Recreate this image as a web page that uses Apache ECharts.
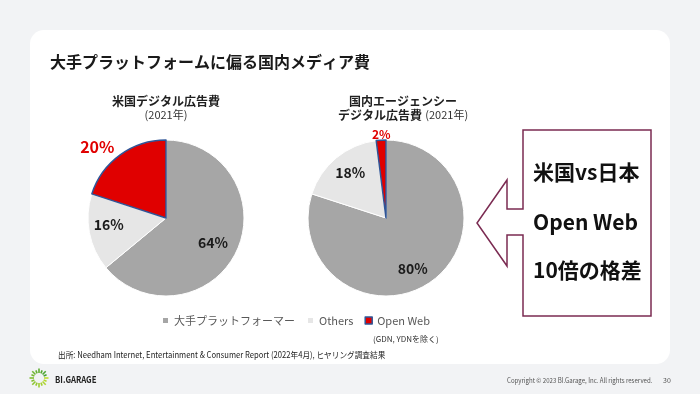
<!DOCTYPE html>
<html>
<head>
<meta charset="utf-8">
<script src="https://cdn.jsdelivr.net/npm/echarts@6/dist/echarts.min.js"></script>
<style>
html,body{margin:0;padding:0;background:#f2f3f5;}
#c{width:700px;height:394px;}
</style>
</head>
<body>
<div id="c"></div>
<script>
// ---- data ----
const categories = ['大手プラットフォーマー', 'Others', 'Open Web'];
const usValues = [64, 16, 20];
const jpValues = [80, 18, 2];
const pageTitle = '大手プラットフォームに偏る国内メディア費';
const usTitle = ['米国デジタル広告費', '(2021年)'];
const jpTitle = ['国内エージェンシー', 'デジタル広告費', '(2021年)'];
const boxLines = ['米国vs日本', 'Open Web', '10倍の格差'];
const noteText = '(GDN, YDNを除く)';
const sourceText = '出所: Needham Internet, Entertainment & Consumer Report (2022年4月), ヒヤリング調査結果';
const brandText = 'BI.GARAGE';
const copyrightText = 'Copyright © 2023 BI.Garage, Inc. All rights reserved.';
const pageNo = '30';

// ---- style ----
const FF = '"Noto Sans CJK JP", "Noto Sans", sans-serif';
const pieCenters = [[166, 218], [386, 218]];
const pieRadius = 78;
const sliceColors = ['#a6a6a6', '#e6e6e6', '#e00000'];
const sliceBorders = [['#ffffff', 1], ['#ffffff', 1], ['#2f5597', 1.5]];
// label shift from the default inside position, per series / slice
const labelShift = [[[9, 7], [-16, -1], [-44, -37]], [[2, 17], [-9, -13], [-2, -42]]];
const labelStyles = [
  { color: '#1a1a1a', fontSize: 14, fontWeight: 'bold' },
  { color: '#1a1a1a', fontSize: 14, fontWeight: 'bold' },
  { color: '#e00000', fontSize: 16, fontWeight: 'bold' }
];
const labelStylesJp = [
  labelStyles[0], labelStyles[1],
  { color: '#e00000', fontSize: 12, fontWeight: 'bold' }
];

function makeData(values, lStyles) {
  return categories.map((n, i) => ({
    name: n, value: values[i],
    itemStyle: { color: sliceColors[i], borderColor: sliceBorders[i][0], borderWidth: sliceBorders[i][1] },
    label: Object.assign({ fontFamily: FF }, lStyles[i])
  }));
}

function pieSeries(values, idx, lStyles) {
  return {
    type: 'pie', center: pieCenters[idx], radius: pieRadius,
    startAngle: 90, clockwise: true, z: 3,
    data: makeData(values, lStyles),
    label: { show: true, position: 'inside', formatter: '{c}%' },
    labelLine: { show: false },
    emphasis: { disabled: true },
    labelLayout: function (p) {
      const s = labelShift[p.seriesIndex][p.dataIndex];
      return { dx: s[0], dy: s[1] };
    }
  };
}

function txt(x, y, text, font, color, align, extra) {
  return Object.assign({
    type: 'text', x: x, y: y,
    style: { text: text, font: font, fill: color,
      align: align || 'left', textAlign: align || 'left',
      verticalAlign: 'middle', textVerticalAlign: 'middle' }
  }, extra || {});
}

// logo dashes
const logoEls = [];
for (let i = 0; i < 16; i++) {
  const a = i / 16 * Math.PI * 2;
  const r0 = 5, r1 = (i % 2 === 0) ? 9.5 : 8.2;
  const t = i / 15;
  const g = Math.round(200 - t * 60), rr = Math.round(190 - t * 120);
  logoEls.push({
    type: 'line',
    shape: { x1: 39 + Math.cos(a) * r0, y1: 378 + Math.sin(a) * r0, x2: 39 + Math.cos(a) * r1, y2: 378 + Math.sin(a) * r1 },
    style: { stroke: 'rgb(' + rr + ',' + (g + 20) + ',50)', lineWidth: 1.6 }
  });
}

const chart = echarts.init(document.getElementById('c'), null, { renderer: 'canvas' });
chart.setOption({
  animation: false,
  backgroundColor: '#f2f3f5',
  legend: {
    left: 156, top: 310, icon: 'rect', itemWidth: 7, itemHeight: 7, itemGap: 11,
    selectedMode: false,
    textStyle: { fontSize: 11, color: '#595959', fontFamily: FF },
    data: categories.map((n, i) => ({
      name: n,
      itemStyle: i < 2 ? { color: sliceColors[i], borderColor: '#ffffff', borderWidth: 2 }
                       : { color: sliceColors[i], borderColor: '#2f5597', borderWidth: 1.5 }
    }))
  },
  graphic: [
    { type: 'rect', z: -10, shape: { x: 30, y: 30, width: 640, height: 334, r: 14 }, style: { fill: '#ffffff' } },
    txt(50, 62, pageTitle, 'bold 16px ' + FF, '#1a1a1a'),
    txt(166, 101, usTitle[0], 'bold 12px ' + FF, '#1f1f1f', 'center'),
    txt(166, 115, usTitle[1], '11px ' + FF, '#333333', 'center'),
    txt(403, 101, jpTitle[0], 'bold 12px ' + FF, '#1f1f1f', 'center'),
    {
      type: 'text', x: 403, y: 115,
      style: {
        text: '{a|' + jpTitle[1] + '} {b|' + jpTitle[2] + '}',
        align: 'center', textAlign: 'center', verticalAlign: 'middle', textVerticalAlign: 'middle',
        rich: {
          a: { fontFamily: FF, fontSize: 12, fontWeight: 'bold', fill: '#1f1f1f', color: '#1f1f1f' },
          b: { fontFamily: FF, fontSize: 11, fill: '#333333', color: '#333333' }
        }
      }
    },
    {
      type: 'polygon',
      shape: { points: [[523, 130], [651, 130], [651, 316], [523, 316], [523, 235], [507, 235], [507, 266], [477, 223], [507, 180], [507, 209], [523, 209]] },
      style: { fill: '#ffffff', stroke: '#7b2b52', lineWidth: 1.5 }
    },
    txt(533, 172, boxLines[0], 'bold 21px ' + FF, '#111111'),
    txt(533, 222, boxLines[1], 'bold 21px ' + FF, '#111111'),
    txt(533, 270, boxLines[2], 'bold 21px ' + FF, '#111111'),
    txt(373, 339, noteText, '8px ' + FF, '#333333'),
    txt(58, 355, sourceText, '8.5px ' + FF, '#222222', 'left', { scaleX: 0.9 }),
    { type: 'group', children: logoEls },
    txt(55, 379, brandText, 'bold 9.5px ' + FF, '#222222', 'left', { scaleX: 0.82 }),
    txt(507, 380, copyrightText, '7px ' + FF, '#555555', 'left', { scaleX: 0.87 }),
    txt(663, 380, pageNo, '7px ' + FF, '#555555')
  ],
  series: [pieSeries(usValues, 0, labelStyles), pieSeries(jpValues, 1, labelStylesJp)]
});
</script>
</body>
</html>
